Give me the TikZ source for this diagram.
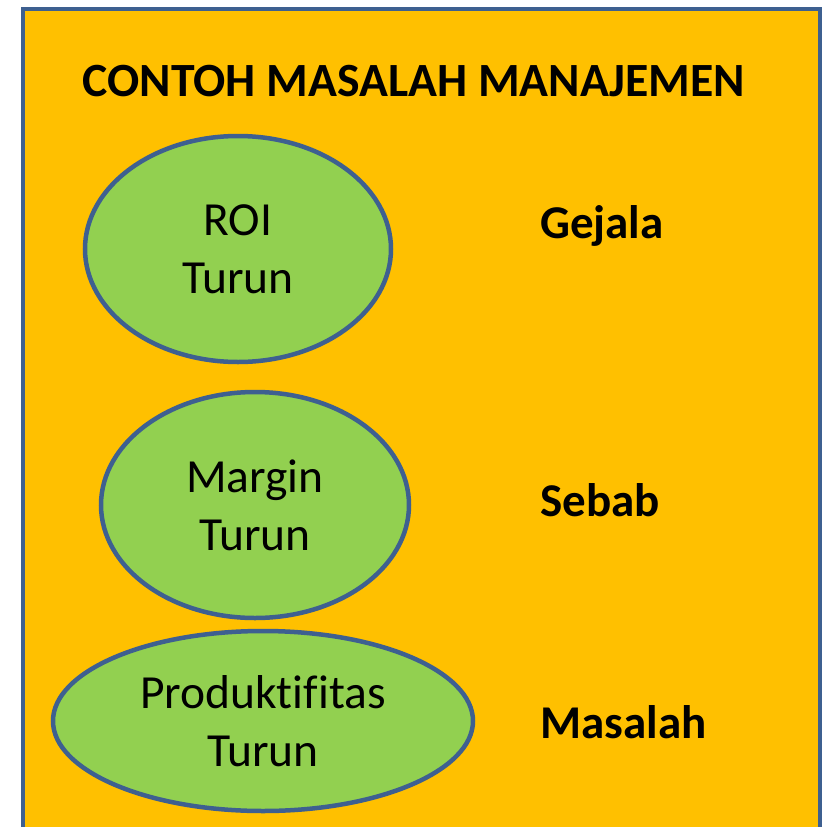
\documentclass[tikz,border=0pt]{standalone}
\usepackage{fontspec}
\setmainfont[Ligatures={NoCommon}]{Carlito}
\usetikzlibrary{shapes.geometric}
\definecolor{bgorange}{HTML}{FFC000}
\definecolor{leaf}{HTML}{92D050}
\definecolor{edgeblue}{HTML}{3E6090}
\tikzset{
  bubble/.style={ellipse, draw=edgeblue, line width=4.5pt, fill=leaf, inner sep=0pt,
    align=center, font=\fontsize{47.5}{58}\selectfont},
  tag/.style={anchor=west, font=\fontsize{47}{54}\selectfont\bfseries, inner sep=0pt},
}
\begin{document}
\begin{tikzpicture}[x=1pt,y=-1pt]
\useasboundingbox (0,0) rectangle (823,827);
\clip (0,0) rectangle (823,827);
\draw[draw=edgeblue, line width=4.5pt, fill=bgorange] (23,9) rectangle (820,860);
\node[font=\fontsize{47.7}{54}\selectfont\bfseries, inner sep=0pt] (title) at (414,81) {CONTOH MASALAH MANAJEMEN};
\node[bubble, minimum width=306pt, minimum height=226pt] (roi) at (238,249) {ROI\\Turun};
\node[bubble, minimum width=308pt, minimum height=226pt] (margin) at (255,505) {Margin\\Turun};
\node[bubble, minimum width=420pt, minimum height=180pt] (prod) at (263,721) {Produktifitas\\Turun};
\node[tag] (gejala) at (540,226) {Gejala};
\node[tag] (sebab) at (540,500) {Sebab};
\node[tag] (masalah) at (540,722) {Masalah};
\end{tikzpicture}
\end{document}
